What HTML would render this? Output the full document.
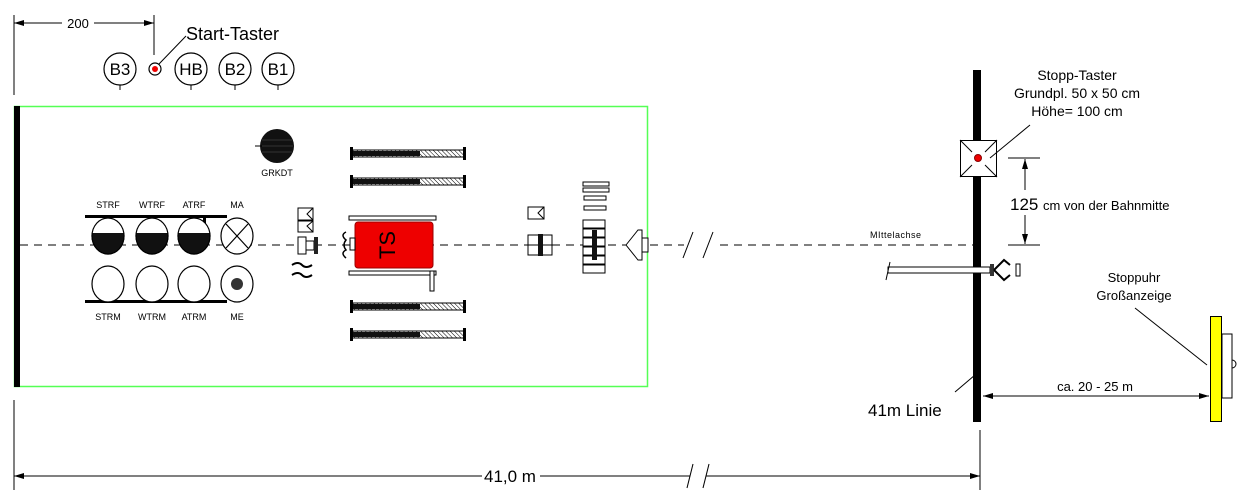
<!DOCTYPE html>
<html><head><meta charset="utf-8"><style>
html,body{margin:0;padding:0;background:#fff}
svg{display:block;font-family:"Liberation Sans",sans-serif}
</style></head><body>
<svg width="1244" height="498" viewBox="0 0 1244 498" xmlns="http://www.w3.org/2000/svg">
<defs>
<marker id="ar" viewBox="0 0 10 6" refX="10" refY="3" markerWidth="10" markerHeight="6" orient="auto-start-reverse" markerUnits="userSpaceOnUse"><path d="M0,0L10,3L0,6z" fill="#000"/></marker>
<pattern id="h" width="3" height="3" patternUnits="userSpaceOnUse" patternTransform="rotate(-45)"><rect width="3" height="3" fill="#fff"/><line x1="0" y1="0" x2="0" y2="3" stroke="#000" stroke-width="1"/></pattern>
<clipPath id="bh"><rect x="0" y="233" width="1244" height="40"/></clipPath>
<g id="hose"><rect x="0" y="0" width="112" height="7" fill="url(#h)" stroke="#000"/><rect x="0" y="1" width="68" height="5" fill="#111"/><rect x="-2" y="-3" width="3" height="13" fill="#000"/><rect x="111" y="-3" width="3" height="13" fill="#000"/></g>
</defs>

<!-- top dimension -->
<line x1="14" y1="15" x2="14" y2="95" stroke="#000"/>
<line x1="154" y1="15" x2="154" y2="55" stroke="#000"/>
<line x1="14" y1="23" x2="62" y2="23" stroke="#000" marker-start="url(#ar)"/>
<line x1="94" y1="23" x2="154" y2="23" stroke="#000" marker-end="url(#ar)"/>
<text x="78" y="28" font-size="13" text-anchor="middle">200</text>

<!-- top circles -->
<g fill="#fff" stroke="#000" stroke-width="1.2">
<circle cx="120" cy="69" r="16"/><circle cx="191" cy="69" r="16"/><circle cx="235" cy="69" r="16"/><circle cx="278" cy="69" r="16"/>
<circle cx="155" cy="69" r="6"/>
</g>
<circle cx="155" cy="69" r="3" fill="#e00"/>
<g stroke="#000"><line x1="120" y1="85" x2="120" y2="90"/><line x1="191" y1="85" x2="191" y2="90"/><line x1="235" y1="85" x2="235" y2="90"/><line x1="278" y1="85" x2="278" y2="90"/><line x1="159" y1="64" x2="186" y2="36"/></g>
<g font-size="17" text-anchor="middle"><text x="120" y="75">B3</text><text x="191" y="75">HB</text><text x="235" y="75">B2</text><text x="278" y="75">B1</text></g>
<text x="186" y="40" font-size="18">Start-Taster</text>

<!-- green area -->
<rect x="14.5" y="106.5" width="633" height="280" fill="none" stroke="#5f5" stroke-width="1.5"/>
<rect x="14" y="106" width="6" height="281" fill="#000"/>

<!-- center line -->
<line x1="20" y1="245" x2="975" y2="245" stroke="#000" stroke-dasharray="8,6"/>
<rect x="684" y="235" width="30" height="20" fill="#fff"/>
<line x1="683" y1="258" x2="693" y2="232" stroke="#000"/>
<line x1="703" y1="258" x2="713" y2="232" stroke="#000"/>
<text x="870" y="238" font-size="9" letter-spacing="0.5">MIttelachse</text>

<!-- GRKDT -->
<circle cx="277" cy="146" r="17" fill="#111"/>
<g stroke="#555" stroke-width="0.6"><line x1="262" y1="140" x2="292" y2="140"/><line x1="261" y1="146" x2="293" y2="146"/><line x1="262" y1="152" x2="292" y2="152"/></g>
<line x1="255" y1="146" x2="262" y2="146" stroke="#000"/>
<text x="277" y="176" font-size="9" text-anchor="middle">GRKDT</text>

<!-- tanks -->
<g font-size="9" text-anchor="middle"><text x="108" y="208">STRF</text><text x="152" y="208">WTRF</text><text x="194" y="208">ATRF</text><text x="237" y="208">MA</text>
<text x="108" y="320">STRM</text><text x="152" y="320">WTRM</text><text x="194" y="320">ATRM</text><text x="237" y="320">ME</text></g>
<rect x="85" y="215" width="142" height="3" fill="#000"/>
<rect x="85" y="300" width="142" height="3" fill="#000"/>
<rect x="203" y="215" width="3" height="22" fill="#000"/>
<g stroke="#000" stroke-width="1.2">
<ellipse cx="108" cy="236" rx="16" ry="18" fill="#fff"/><ellipse cx="152" cy="236" rx="16" ry="18" fill="#fff"/><ellipse cx="194" cy="236" rx="16" ry="18" fill="#fff"/>
<g clip-path="url(#bh)" fill="#111"><ellipse cx="108" cy="236" rx="16" ry="18"/><ellipse cx="152" cy="236" rx="16" ry="18"/><ellipse cx="194" cy="236" rx="16" ry="18"/></g>
<ellipse cx="237" cy="236" rx="16" ry="18" fill="#fff"/>
<line x1="226" y1="224" x2="248" y2="248"/><line x1="248" y1="224" x2="226" y2="248"/>
<ellipse cx="108" cy="284" rx="16" ry="18" fill="#fff"/><ellipse cx="152" cy="284" rx="16" ry="18" fill="#fff"/><ellipse cx="194" cy="284" rx="16" ry="18" fill="#fff"/><ellipse cx="237" cy="284" rx="16" ry="18" fill="#fff"/>
</g>
<circle cx="237" cy="284" r="6" fill="#333"/>

<!-- small boxes left -->
<g fill="#fff" stroke="#000">
<rect x="298" y="208" width="15" height="12"/><rect x="298" y="221" width="15" height="11"/>
<path d="M313,208 L307,214 L313,220 M313,221 L307,226 L313,232" fill="none"/>
<rect x="298" y="237" width="8" height="17"/><rect x="306" y="241" width="8" height="9"/>
</g>
<rect x="314" y="237" width="4" height="17" fill="#222"/>
<path d="M292,265 q6,-4 10,0 q4,4 10,0 M292,275 q6,-4 10,0 q4,4 10,0" fill="none" stroke="#000" stroke-width="2"/>
<path d="M346,232 q-6,3 0,8 q-4,5 0,10 q-6,3 0,8" fill="none" stroke="#000" stroke-width="1.5"/>

<!-- hoses -->
<use href="#hose" x="352" y="150"/>
<use href="#hose" x="352" y="178"/>
<use href="#hose" x="352" y="303"/>
<use href="#hose" x="352" y="331"/>

<!-- TS -->
<rect x="349" y="216" width="87" height="4" fill="#fff" stroke="#000"/>
<rect x="349" y="271" width="87" height="4" fill="#fff" stroke="#000"/>
<rect x="430" y="271" width="4" height="20" fill="#fff" stroke="#000"/>
<rect x="355" y="222" width="78" height="46" rx="3" fill="#e00" stroke="#900"/>
<rect x="350" y="238" width="5" height="12" fill="#fff" stroke="#000"/>
<text transform="translate(387,245) rotate(-90)" font-size="22" text-anchor="middle" dy="8">TS</text>

<!-- right equipment -->
<g fill="#fff" stroke="#000">
<rect x="528" y="207" width="16" height="12"/>
<path d="M544,207 L538,213 L544,219" fill="none"/>
<rect x="528" y="235" width="24" height="10"/><rect x="528" y="245" width="24" height="10"/>
<rect x="583" y="182" width="26" height="4"/><rect x="583" y="188" width="26" height="4"/>
<rect x="584" y="196" width="22" height="4"/><rect x="584" y="206" width="22" height="4"/>
<rect x="583" y="220" width="22" height="8"/><rect x="583" y="229" width="22" height="8"/><rect x="583" y="238" width="22" height="8"/><rect x="583" y="247" width="22" height="8"/><rect x="583" y="256" width="22" height="8"/><rect x="583" y="265" width="22" height="8"/>
<path d="M626,245 L638,230 L642,230 L642,260 L638,260 Z"/>
<rect x="642" y="238" width="6" height="14"/>
</g>
<rect x="538" y="234" width="5" height="22" fill="#111"/>
<rect x="592" y="230" width="5" height="30" fill="#111"/>

<!-- 41m line -->
<rect x="973" y="70" width="8" height="352" fill="#000"/>
<rect x="960.5" y="140.5" width="36" height="36" fill="#fff" stroke="#000"/>
<g stroke="#000"><line x1="960" y1="140" x2="972" y2="152"/><line x1="997" y1="140" x2="985" y2="152"/><line x1="960" y1="177" x2="972" y2="165"/><line x1="997" y1="177" x2="985" y2="165"/><line x1="990" y1="158" x2="1030" y2="125"/></g>
<circle cx="978" cy="158" r="3.5" fill="#e00" stroke="#800"/>
<g font-size="14" text-anchor="middle"><text x="1077" y="80">Stopp-Taster</text><text x="1077" y="98">Grundpl. 50 x 50 cm</text><text x="1077" y="116">Höhe= 100 cm</text></g>

<line x1="1008" y1="158" x2="1040" y2="158" stroke="#000"/>
<line x1="1008" y1="245" x2="1040" y2="245" stroke="#000"/>
<line x1="1025" y1="190" x2="1025" y2="159" stroke="#000" marker-end="url(#ar)"/>
<line x1="1025" y1="215" x2="1025" y2="244" stroke="#000" marker-end="url(#ar)"/>
<text x="1010" y="210" font-size="17">125</text><text x="1043" y="210" font-size="13">cm  von der Bahnmitte</text>

<!-- hose at stop line -->
<rect x="888" y="267" width="102" height="6" fill="#fff" stroke="#000"/>
<path d="M886,280 L890,262" stroke="#000"/>
<rect x="990" y="264" width="4" height="12" fill="#333"/>
<path d="M994,270 L1004,260 L1010,265 M994,270 L1004,280 L1010,275" fill="none" stroke="#000" stroke-width="2"/>
<rect x="1016" y="264" width="4" height="12" fill="#fff" stroke="#000"/>

<line x1="955" y1="392" x2="975" y2="375" stroke="#000"/>
<text x="868" y="416" font-size="17">41m Linie</text>

<!-- Stoppuhr -->
<g font-size="13" text-anchor="middle"><text x="1134" y="282">Stoppuhr</text><text x="1134" y="300">Großanzeige</text></g>
<line x1="1135" y1="308" x2="1207" y2="365" stroke="#000"/>
<rect x="1222" y="334" width="10" height="64" fill="#fff" stroke="#000"/>
<path d="M1232,360 a4,4 0 0 1 0,8" fill="none" stroke="#000"/>
<rect x="1210.5" y="316.5" width="11" height="105" fill="#ff0" stroke="#000"/>
<line x1="983" y1="396" x2="1209" y2="396" stroke="#000" marker-start="url(#ar)" marker-end="url(#ar)"/>
<text x="1095" y="391" font-size="13" text-anchor="middle">ca. 20 - 25 m</text>

<!-- bottom dimension -->
<line x1="14" y1="400" x2="14" y2="490" stroke="#000"/>
<line x1="980" y1="430" x2="980" y2="490" stroke="#000"/>
<line x1="14" y1="476" x2="240" y2="476" stroke="#000" marker-start="url(#ar)"/>
<line x1="15" y1="476" x2="482" y2="476" stroke="#000"/>
<line x1="540" y1="476" x2="690" y2="476" stroke="#000"/>
<line x1="706" y1="476" x2="980" y2="476" stroke="#000" marker-end="url(#ar)"/>
<line x1="687" y1="488" x2="693" y2="464" stroke="#000"/>
<line x1="703" y1="488" x2="709" y2="464" stroke="#000"/>
<text x="510" y="482" font-size="17" text-anchor="middle">41,0 m</text>
</svg>
</body></html>
